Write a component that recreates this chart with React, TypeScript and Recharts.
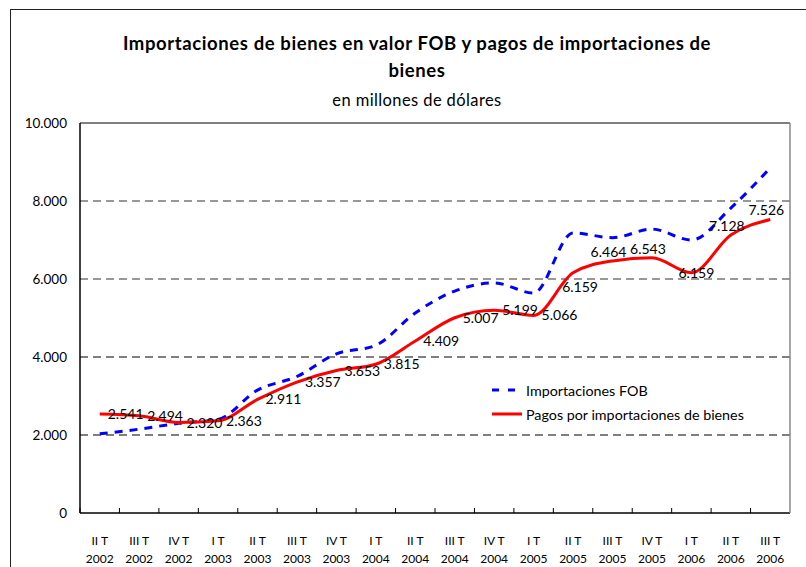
import React from 'react';
import { LineChart, Line, XAxis, YAxis, ReferenceLine, Legend } from 'recharts';

const quarters = ['II T', 'III T', 'IV T', 'I T', 'II T', 'III T', 'IV T', 'I T', 'II T', 'III T', 'IV T', 'I T', 'II T', 'III T', 'IV T', 'I T', 'II T', 'III T'];
const years = ['2002', '2002', '2002', '2003', '2003', '2003', '2003', '2004', '2004', '2004', '2004', '2005', '2005', '2005', '2005', '2006', '2006', '2006'];
const importacionesFOB = [2030, 2150, 2300, 2400, 3150, 3500, 4080, 4300, 5130, 5690, 5900, 5640, 7180, 7060, 7280, 7000, 7820, 8850];
const pagosImportaciones = [2541, 2494, 2320, 2363, 2911, 3357, 3653, 3815, 4409, 5007, 5199, 5066, 6159, 6464, 6543, 6159, 7128, 7526];
const yTicks = [0, 2000, 4000, 6000, 8000, 10000];
const darkGrid = [2000, 4000];
const lightGrid = [6000, 8000];
const labelPlacement = ['right', 'right', 'right', 'right', 'right', 'right', 'right', 'right', 'right', 'right', 'right', 'right', 'below', 'above', 'above', 'center', 'above', 'above'];

const FONT = 'Lato, "Open Sans", sans-serif';
const W = 806;
const H = 567;
const LEFT_AXIS_W = 80;
const RIGHT_AXIS_W = 16;
const HALF_BAND = (W - LEFT_AXIS_W - RIGHT_AXIS_W) / quarters.length / 2;

const data = quarters.map((q, i) => ({
  cat: `${q} ${years[i]}`,
  fob: importacionesFOB[i],
  pagos: pagosImportaciones[i],
}));

const fmt = (n: number) => String(Math.round(n)).replace(/\B(?=(\d{3})+(?!\d))/g, '.');

const XTick = (props: any) => {
  const { x, y, payload } = props;
  const v: string = payload.value;
  const idx = v.lastIndexOf(' ');
  const q = v.slice(0, idx);
  const yr = v.slice(idx + 1);
  return (
    <g>
      <line x1={x - HALF_BAND} y1={y} x2={x - HALF_BAND} y2={y - 5} stroke="#000" strokeWidth={1} />
      <text x={x} y={y + 32} textAnchor="middle" fontSize={12} fontFamily={FONT} fill="#000">{q}</text>
      <text x={x} y={y + 50} textAnchor="middle" fontSize={12} fontFamily={FONT} fill="#000">{yr}</text>
    </g>
  );
};

const renderLabel = (props: any) => {
  const { x, y, value, index } = props;
  const p = labelPlacement[index];
  let tx = x + 8;
  let ty = y + 5;
  let anchor = 'start';
  if (p === 'below') { tx = x + 7; ty = y + 19; anchor = 'middle'; }
  else if (p === 'above') { tx = x - 4; ty = y - 4; anchor = 'middle'; }
  else if (p === 'center') { tx = x + 5; ty = y + 5; anchor = 'middle'; }
  return (
    <text key={`lbl-${index}`} x={tx} y={ty} textAnchor={anchor} fontSize={14} fontFamily={FONT} fill="#000">
      {fmt(value)}
    </text>
  );
};

const LegendContent = () => (
  <div style={{ fontFamily: FONT, fontSize: 14.3, color: '#000' }}>
    <div style={{ display: 'flex', alignItems: 'center', height: 24 }}>
      <svg width={36} height={10}><line x1={2} y1={5} x2={25} y2={5} stroke="#0000FF" strokeWidth={3} strokeDasharray="7 9" /></svg>
      <span>Importaciones FOB</span>
    </div>
    <div style={{ display: 'flex', alignItems: 'center', height: 24 }}>
      <svg width={36} height={10}><line x1={2} y1={5} x2={32} y2={5} stroke="#FF0000" strokeWidth={3} /></svg>
      <span>Pagos por importaciones de bienes</span>
    </div>
  </div>
);

export default function App() {
  return (
    <div style={{ position: 'absolute', left: 0, top: 0, width: W, height: H, overflow: 'hidden', background: '#fff', fontFamily: FONT }}>
      <div style={{ position: 'absolute', left: 10, top: 9, width: 1000, height: 1000, border: '1.5px solid #222' }} />
      <div style={{ position: 'absolute', left: 17, top: 30, width: 800, textAlign: 'center', fontWeight: 700, fontSize: 18.5, letterSpacing: 0.6, lineHeight: '27px', color: '#000' }}>
        Importaciones de bienes en valor FOB y pagos de importaciones de<br />bienes
      </div>
      <div style={{ position: 'absolute', left: 17, top: 89, width: 800, textAlign: 'center', fontSize: 16.5, letterSpacing: 0.4, lineHeight: '22px', color: '#000' }}>
        en millones de dólares
      </div>
      <div style={{ position: 'absolute', left: 0, top: 0 }}>
        <LineChart width={W} height={H} data={data} margin={{ top: 123, right: 0, bottom: 0, left: 0 }}>
          <XAxis
            dataKey="cat"
            height={54}
            interval={0}
            padding={{ left: HALF_BAND, right: HALF_BAND }}
            tickLine={false}
            tickSize={0}
            tickMargin={0}
            axisLine={{ stroke: '#000', strokeWidth: 1.5 }}
            tick={<XTick />}
          />
          <YAxis
            yAxisId="left"
            width={LEFT_AXIS_W}
            domain={[0, 10000]}
            ticks={yTicks}
            tickFormatter={fmt}
            tickLine={false}
            tickSize={0}
            tickMargin={13}
            axisLine={{ stroke: '#000', strokeWidth: 1.5 }}
            tick={{ fontSize: 13.5, fontFamily: FONT, fill: '#000' }}
          />
          <YAxis
            yAxisId="right"
            orientation="right"
            width={RIGHT_AXIS_W}
            domain={[0, 10000]}
            tick={false}
            tickLine={false}
            axisLine={{ stroke: '#888', strokeWidth: 1.5 }}
          />
          {darkGrid.map((v) => (
            <ReferenceLine key={`d${v}`} yAxisId="left" y={v} stroke="#000" strokeWidth={1.2} strokeDasharray="8 5" />
          ))}
          {lightGrid.map((v) => (
            <ReferenceLine key={`l${v}`} yAxisId="left" y={v} stroke="#777" strokeWidth={1.5} strokeDasharray="8 5" />
          ))}
          <ReferenceLine yAxisId="left" y={10000} stroke="#555" strokeWidth={1.5} />
          <Legend
            layout="horizontal"
            verticalAlign="middle"
            align="center"
            content={<LegendContent />}
            wrapperStyle={{ position: 'absolute', left: 490, top: 378, width: 300, height: 50 }}
          />
          <Line
            yAxisId="left"
            type="monotone"
            dataKey="fob"
            name="Importaciones FOB"
            stroke="#0000FF"
            strokeWidth={3}
            strokeDasharray="8 7"
            dot={false}
            isAnimationActive={false}
          />
          <Line
            yAxisId="left"
            type="monotone"
            dataKey="pagos"
            name="Pagos por importaciones de bienes"
            stroke="#FF0000"
            strokeWidth={3}
            dot={false}
            label={renderLabel}
            isAnimationActive={false}
          />
        </LineChart>
      </div>
    </div>
  );
}
